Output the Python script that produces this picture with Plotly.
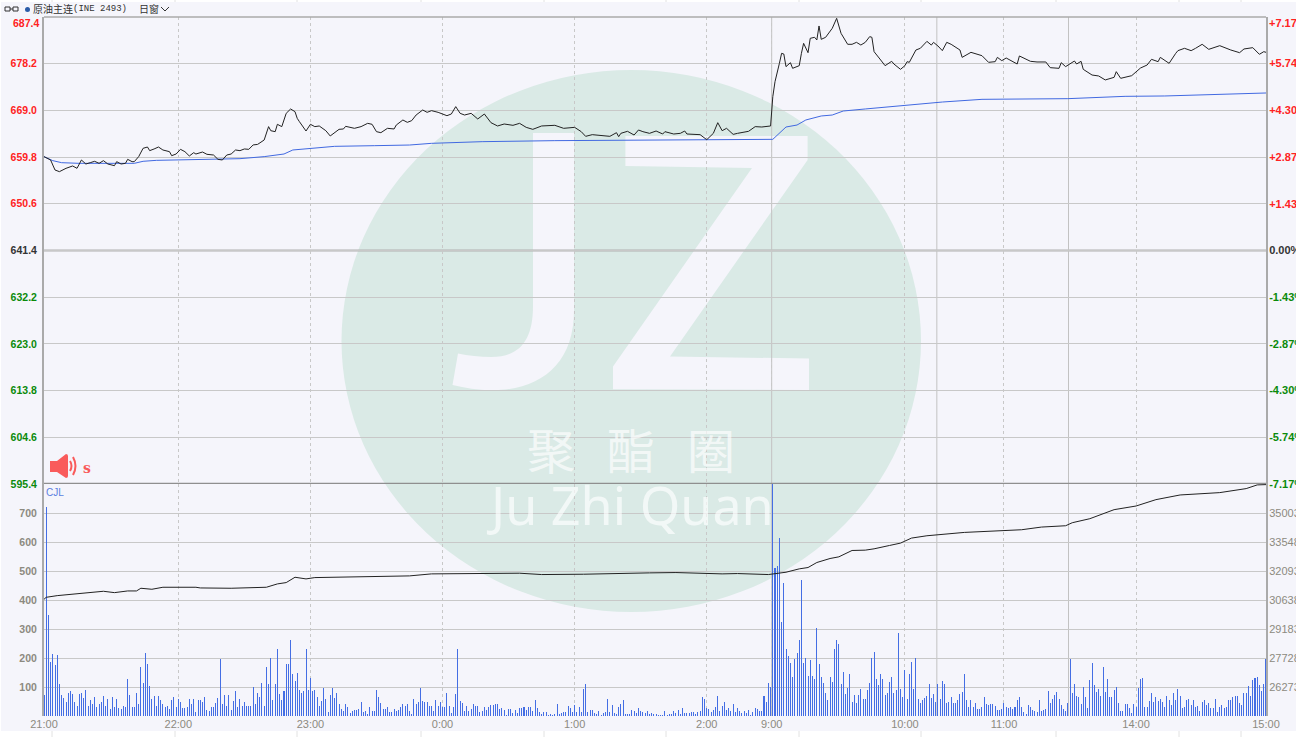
import plotly.graph_objects as go

# ---------- data ----------
price_minute = [0,3,4,5,7,9,10,13,15,17,19,21,23,25,27,29,32,33,35,37,38,40,41,43,45,47,48,50,52,54,57,58,60,62,64,66,68,69,72,74,77,79,81,83,85,87,89,91,93,95,97,100,101,102,103,105,106,108,110,112,114,115,116,119,121,123,125,128,130,132,134,136,137,141,144,147,149,151,153,156,159,160,163,165,167,169,172,174,176,
179,183,185,187,189,191,194,197,200,203,206,209,213,216,219,222,226,229,232,236,241,244,246,249,254,257,260,261,262,265,268,270,272,275,278,281,282,286,289,291,292,298,301,304,306,308,310,313,315,320,323,326,330,331,332,333,334,335,336,337,339,340,343,344,345,347,348,350,351,352,353,355,358,360,362,365,367,369,371,373,
375,376,377,380,382,385,386,389,391,392,393,396,398,401,403,404,406,408,410,412,416,417,421,426,429,432,433,435,437,442,443,448,451,455,457,461,462,464,466,468,469,471,472,476,479,482,486,487,489,494,498,501,503,506,507,509,511,514,515,518,521,523,526,529,534,539,543,545,549,552,554,555]
price_value = [659.89,659.23,658.24,657.26,656.93,657.45,657.59,658.05,657.59,659.23,658.44,658.7,658.97,658.57,659.1,658.44,658.11,658.9,658.44,658.57,659.36,658.9,658.9,659.89,661.53,661.79,661.07,661.4,661.79,661.2,660.87,660.08,660.41,661.33,660.87,660.02,660.67,660.41,660.8,660.35,660.21,659.36,659.23,660.21,660.41,661.2,661.07,661.4,661.33,662.2,662.3,663.17,664.48,665.8,665.0,664.81,666.26,665.8,668.42,669.28,668.75,667.44,666.78,664.94,666.26,665.8,665.93,665.0,663.96,664.61,665.27,665.34,665.86,665.47,665.8,666.45,666.26,664.81,664.61,665.47,665.34,666.12,667.11,666.65,666.98,668.09,669.08,668.62,668.95,
668.62,667.96,668.29,669.74,668.42,668.09,668.42,667.31,668.29,666.58,665.93,666.32,666.06,666.45,665.66,665.27,665.93,665.99,666.06,665.47,665.66,664.81,663.89,664.22,664.09,663.89,664.61,663.83,664.48,664.88,664.15,665.14,664.81,664.48,664.94,664.35,664.81,664.35,664.48,664.94,664.35,664.22,663.23,664.48,666.58,665.0,665.47,664.28,664.48,664.88,665.8,665.73,665.93,671.71,674.66,676.3,678.27,680.24,680.11,677.62,678.4,677.29,677.81,680.24,682.21,680.37,683.2,683.4,682.87,685.63,683.0,683.4,685.17,687.14,684.18,682.02,682.02,682.41,681.88,682.41,
683.53,683.4,680.57,678.93,677.81,678.67,678.14,677.09,677.81,678.6,678.47,680.9,681.23,682.6,681.87,682.41,681.69,680.77,682.41,682.02,680.9,679.45,680.44,679.78,678.47,678.6,679.45,678.8,679.32,678.14,679.72,678.67,678.54,678.54,677.42,677.29,678.4,677.62,678.14,678.73,678.14,678.67,677.09,675.97,675.78,675.0,675.51,676.63,675.32,675.84,677.35,677.94,679.06,678.6,679.45,678.8,678.27,680.24,680.77,681.23,680.77,681.23,682.02,681.03,681.75,680.9,680.37,681.1,681.36,680.05,680.57,680.44]

avg_minute = [0,4,8,16,41,45,51,60,71,89,100,109,113,121,132,150,166,176,199,232,321,331,337,342,346,353,358,363,373,391,408,426,465,491,509,555]
avg_value = [659.89,659.1,658.7,658.57,658.57,658.97,659.16,659.23,659.43,659.49,659.89,660.41,661.2,661.53,661.92,662.05,662.18,662.51,662.84,663.04,663.17,663.3,665.73,666.12,667.11,667.9,668.09,668.88,669.28,670.06,670.65,671.18,671.31,671.77,671.84,672.43]

cum_minute = [0,1,6,15,22,27,32,38,42,44,49,54,69,71,85,88,95,101,106,110,114,119,123,135,147,166,176,204,216,226,245,275,287,308,315,329,331,337,343,347,351,357,361,367,373,377,384,389,394,401,418,435,444,453,464,467,475,486,496,505,516,534,546,551,555]
cum_value = [30673,30773,30857,30941,30992,31076,31008,31092,31092,31227,31176,31277,31277,31243,31227,31243,31243,31277,31445,31512,31780,31696,31763,31780,31831,31847,31948,31982,31982,31915,31931,31998,32015,31948,31965,31915,31948,32032,32200,32267,32519,32720,32804,33123,33139,33206,33374,33492,33744,33861,34029,34129,34163,34297,34364,34515,34717,35170,35354,35673,35908,36026,36227,36412,36428]

vol_night_start = 0
vol_night = [72,720,348,185,213,175,210,110,73,63,48,80,85,75,50,33,75,78,62,90,36,55,42,65,30,42,48,70,33,60,25,65,30,57,27,25,35,30,128,73,32,32,80,42,170,115,218,180,105,60,70,35,70,55,42,30,35,25,55,67,30,60,48,28,28,30,60,42,60,14,55,55,48,67,22,18,32,32,46,62,198,40,72,35,72,22,52,85,30,58,35,50,35,33,35,100,42,78,65,115,33,170,112,200,55,112,232,75,55,85,180,178,262,145,122,148,90,80,85,230,90,130,85,90,65,35,52,95,60,14,72,95,62,80,42,25,18,40,30,10,17,22,20,25,48,15,17,8,30,18,17,90,65,45,25,25,30,15,15,25,17,20,30,42,33,40,18,6,60,40,50,95,52,50,50,35,35]
vol_late_start = 177
vol_late = [18,55,35,50,30,30,78,35,10,30,77,230,52,45,18,33,18,23,40,35,36,15,18,32,20,32,37,38,40,42,23,26,20,4,24,24,9,20,9,26,28,30,20,30,32,17,54,27,15,7,15,15,5,6,5,6,41,6,9,13,15,36,26,15,37,15,32,15,92,109,15,20,21,9,7,18,4,9,15,59,15,38,9,6,32,41,55,6,6,8,22,18,9,26,16,13,9,18,7,9,8,7,5,4,5,16,5,6,7,16,9,20,6,26,9,9,12,13,14,7,14,16,64,60,27,24,15,20,30,69,18,36,48,20,27,18,41,15,26,18,12,18,9,20,5,15,27,23,18,18,69,50,115,101]
vol_open_start = 331
vol_open = [800,510,518,613,325,458,230,208,182,135,197,216,262,470,184,201,138,193,138,126,302,180,136,113,78,55,133,118,230,262,250,110,153,75,95,145,50,71,46,71,94,60]
vol_day_start = 373
vol_day = [60,90,115,200,220,128,107,145,128,72,80,117,135,80,90,285,94,64,158,60,145,186,92,200,58,46,55,63,69,112,62,76,48,110,58,120,110,44,50,64,44,46,54,76,83,145,55,32,55,30,44,25,25,32,64,40,37,40,41,35,20,20,23,44,30,26,32,23,32,55,64,32,15,7,38,32,20,18,13,55,18,20,25,86,44,60,72,83,58,38,25,18,46,195,78,110,69,64,41,101,64,27,125,182,107,84,92,69,168,83,127,64,66,90,101,44,18,18,41,41,27,12,40,32,95,127,130,32,32,53,78,47,64,53,60,47,30,69,55,38,78,55,94,69,27,32,55,58,37,55,32,35,18,48,55,38,46,26,27,58,15,30,38,27,30,55,55,64,70,69,44,37,80,80,103,69,124,130,135,107,86,112,198]

time_ticks = [0,61,121,181,241,301,330.5,391,436,496,555]
time_labels = ["21:00","22:00","23:00","0:00","1:00","2:00","9:00","10:00","11:00","14:00","15:00"]
session_breaks = [330.5,405.5,465.3]

price_ticks = [678.2,669.0,659.8,650.6,641.4,632.2,623.0,613.8,604.6,595.4]
pct_ticks = [5.74,4.30,2.87,1.43,0.00,-1.43,-2.87,-4.30,-5.74,-7.17]
vol_ticks = [100,200,300,400,500,600,700]
cum_ticks = [26273,27728,29183,30638,32093,33548,35003]
price_top = 687.4
pct_top = 7.17

# ---------- styles ----------
RED, GREEN, DARK, GREY = "#FF2222", "#0A8A0A", "#333333", "#8C8A80"
BG, WM, GRID, EDGE = "#F5F5FB", "#DAEAE6", "#C8C8C8", "#AAAAAA"
SANS = "Liberation Sans"
L, R, T, B = 44, 1266, 17, 716
SPLIT = 484
page_marks = [52,175,297,421,544,666,799,921,1056,1179,1241]

def px(x): return (x - L) / (R - L)
def py(y): return (B - y) / (B - T)

def path(cmds):
    out = []
    for c in cmds:
        if isinstance(c, str):
            out.append(c)
        else:
            out.append(f"{px(c[0]):.5f},{py(c[1]):.5f}")
    return " ".join(out)

def tint(v, text):
    col = RED if v > 0 else GREEN if v < 0 else DARK
    return f'<span style="color:{col}"><b>{text}</b></span>'

def sgn(p): return f"{p:+.2f}%" if p != 0 else "0.00%"

vol_x = (list(range(vol_night_start, vol_night_start + len(vol_night)))
         + list(range(vol_late_start, vol_late_start + len(vol_late)))
         + list(range(vol_open_start, vol_open_start + len(vol_open)))
         + list(range(vol_day_start, vol_day_start + len(vol_day))))
vol_y = vol_night + vol_late + vol_open + vol_day

fig = go.Figure()
fig.add_trace(go.Bar(x=vol_x, y=vol_y, xaxis="x", yaxis="y2", width=0.46,
                     marker=dict(color="rgba(66,108,228,0.99)", line=dict(width=0)), name="CJL"))
fig.add_trace(go.Scatter(x=cum_minute, y=cum_value, xaxis="x", yaxis="y4", mode="lines",
                         line=dict(color="#222222", width=1), name="cum"))
fig.add_trace(go.Scatter(x=avg_minute, y=avg_value, xaxis="x", yaxis="y", mode="lines",
                         line=dict(color="#4169E1", width=1), name="avg"))
fig.add_trace(go.Scatter(x=price_minute, y=price_value, xaxis="x", yaxis="y", mode="lines",
                         line=dict(color="#222222", width=1), name="price"))

shapes = [
    dict(type="rect", xref="paper", yref="paper", x0=px(1), x1=px(1296), y0=py(731), y1=py(2),
         fillcolor=BG, line_width=0, layer="below"),
    dict(type="circle", xref="paper", yref="paper", x0=px(341.5), x1=px(921), y0=py(612), y1=py(70),
         fillcolor=WM, line_width=0, layer="below"),
    dict(type="path", xref="paper", yref="paper", fillcolor=BG, line_width=0, layer="below",
         path=path(["M",(533,133),"L",(574,133),"L",(574,310),"C",(574,365),(540,390),(491,390.4),
                    "C",(478,390),(465,388),(452.5,385),"L",(458,353.6),"C",(468,356),(480,357),(491,357),
                    "C",(520,357),(533,340),(533,306),"Z"])),
    dict(type="path", xref="paper", yref="paper", fillcolor=BG, line_width=0, layer="below",
         path=path(["M",(625.4,136),"L",(807.6,136),"L",(807.6,160),"L",(670,356.4),"L",(809,358.6),
                    "L",(809,390),"L",(613,389.3),"L",(613,366.4),"L",(752,168),"L",(625.4,166),"Z"])),
    # frame
    dict(type="line", xref="paper", yref="paper", x0=0, x1=1, y0=1, y1=1, line=dict(color=EDGE, width=1.5)),
    dict(type="line", xref="paper", yref="y", x0=0, x1=1, y0=641.4, y1=641.4, line=dict(color="#B0B0B0", width=2), layer="below"),
    dict(type="line", xref="paper", yref="y", x0=0, x1=1, y0=595.4, y1=595.4, line=dict(color="#8F8F8F", width=2.5)),
    # toolbar glyphs and speaker
    dict(type="rect", xref="paper", yref="paper", x0=px(5), x1=px(10), y0=py(11), y1=py(7), line=dict(color=DARK, width=1)),
    dict(type="rect", xref="paper", yref="paper", x0=px(13), x1=px(18), y0=py(11), y1=py(7), line=dict(color=DARK, width=1)),
    dict(type="line", xref="paper", yref="paper", x0=px(10), x1=px(13), y0=py(9), y1=py(9), line=dict(color=DARK, width=1)),
    dict(type="circle", xref="paper", yref="paper", x0=px(25), x1=px(30), y0=py(12), y1=py(7), fillcolor="#2B5CA8", line_width=0),
    dict(type="path", xref="paper", yref="paper", line=dict(color=DARK, width=1),
         path=path(["M",(161,7),"L",(165,11),"L",(169,7)])),
    dict(type="path", xref="paper", yref="paper", fillcolor="#F95B5B", line_width=0,
         path=path(["M",(50,461),"L",(57,461),"L",(66,454),"Q",(68,454),(68,456),"L",(68,476),
                    "Q",(68,478),(66,478),"L",(57,472),"L",(50,472),"Z"])),
    dict(type="path", xref="paper", yref="paper", line=dict(color="#F95B5B", width=2),
         path=path(["M",(70,461),"Q",(73,466),(70,471)])),
    dict(type="path", xref="paper", yref="paper", line=dict(color="#F95B5B", width=2),
         path=path(["M",(73,457),"Q",(78,466),(73,475)])),
]
for b in session_breaks:
    shapes.append(dict(type="line", xref="x", yref="paper", x0=b, x1=b, y0=0, y1=1,
                       line=dict(color="#C2C2C2", width=1), layer="below"))
for m in page_marks:
    shapes.append(dict(type="line", xref="paper", yref="paper", x0=px(m), x1=px(m), y0=py(731), y1=py(737),
                       line=dict(color="#E2E2E2", width=1), layer="below"))
    shapes.append(dict(type="line", xref="paper", yref="paper", x0=px(m), x1=px(m), y0=py(0), y1=py(2),
                       line=dict(color="#E2E2E2", width=1), layer="below"))

def note(x, y, text, size=11, color=DARK, family=SANS, anchor="left"):
    return dict(xref="paper", yref="paper", x=px(x), y=py(y), text=text, showarrow=False,
                xanchor=anchor, yanchor="middle", align=anchor, borderpad=0,
                font=dict(size=size, color=color, family=family))

annotations = [
    note(32, 9, "原油主连", 10, DARK, "Noto Sans CJK SC"),
    note(72, 9, "(INE 2493)", 9, DARK, "Liberation Mono"),
    note(138, 9, "日窗", 10, DARK, "Noto Sans CJK SC"),
    note(45, 492, "CJL", 10, "#5B7FE0"),
    note(82, 468, "<b>s</b>", 14, "#F95B5B", "DejaVu Serif"),
    note(39.5, 23, f"<b>{price_top:.1f}</b>", 10.5, RED, anchor="right"),
    note(1268, 23, f"<b>+{pct_top:.2f}%</b>", 11, RED),
    note(631, 448, "聚\u2002\u2006酯\u2002\u2006圈", 48, "rgba(255,255,255,0.68)", "Noto Sans CJK SC", "center"),
    note(630, 504, "Ju Zhi Quan", 52, "rgba(255,255,255,0.66)", "Noto Sans", "center"),
]

split = py(SPLIT)
grid_left = dict(showgrid=True, gridcolor=GRID, gridwidth=1, zeroline=False, showline=True,
                 linecolor=EDGE, linewidth=2, ticks="outside", ticklen=3, tickcolor="rgba(0,0,0,0)",
                 automargin=False, tickfont=dict(family=SANS, size=10.5, color=GREY))
right = dict(showgrid=False, zeroline=False, showline=True, linecolor=EDGE, linewidth=2,
             ticks="", automargin=False, ticklabelstandoff=-1,
             side="right", tickfont=dict(family=SANS, size=11, color=GREY))

fig.update_layout(
    template="none", width=1296, height=737, showlegend=False, hovermode=False,
    margin=dict(l=L, r=1296 - R, t=T, b=737 - B, pad=0),
    paper_bgcolor="#FFFFFF", plot_bgcolor="rgba(0,0,0,0)", bargap=0,
    shapes=shapes, annotations=annotations,
    xaxis=dict(domain=[0, 1], anchor="y2", range=[0, 555], tickmode="array", tickvals=time_ticks,
               ticktext=time_labels, showgrid=True, griddash="3px,3px", gridcolor=GRID, gridwidth=1,
               zeroline=False, showline=False, ticks="", automargin=False, tickangle=0,
               tickfont=dict(family=SANS, size=11, color=GREY)),
    yaxis=dict(domain=[split, 1], anchor="x", range=[595.4, 687.4], tickmode="array", tickvals=price_ticks,
               ticktext=[tint(v - 641.4, f"{v:.1f}") for v in price_ticks], **grid_left),
    yaxis3=dict(domain=[split, 1], anchor="x", overlaying="y", range=[-7.17, 7.17], tickmode="array",
                tickvals=pct_ticks, ticktext=[tint(p, sgn(p)) for p in pct_ticks], **right),
    yaxis2=dict(domain=[0, split], anchor="x", range=[0, 800], tickmode="array", tickvals=vol_ticks,
                ticktext=[f"<b>{v}</b>" for v in vol_ticks], **grid_left),
    yaxis4=dict(domain=[0, split], anchor="x", overlaying="y2", range=[24818, 36458], tickmode="array",
                tickvals=cum_ticks, ticktext=[str(v) for v in cum_ticks], **right),
)
# the percent axis carries no trace of its own, so give it an invisible one to keep it drawn
fig.add_trace(go.Scatter(x=[0, 555], y=[-7.17, 7.17], xaxis="x", yaxis="y3", mode="lines",
                         line=dict(color="rgba(0,0,0,0)", width=0), name="pct"))

fig.write_html("out.html", config={"displayModeBar": False},
               post_script="document.body.style.margin='0';document.documentElement.style.overflow='hidden';")
